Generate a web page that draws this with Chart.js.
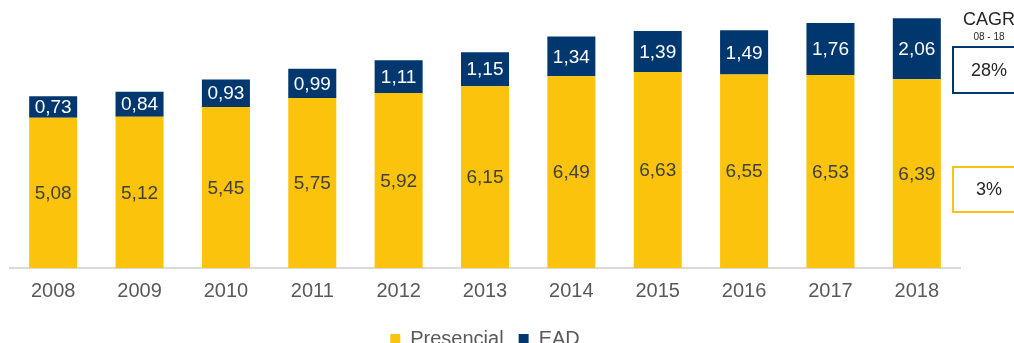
<!DOCTYPE html>
<html>
<head>
<meta charset="utf-8">
<script src="https://cdn.jsdelivr.net/npm/chart.js@4/dist/chart.umd.min.js"></script>
<style>
  html, body { margin: 0; padding: 0; background: #ffffff; overflow: hidden; }
  #wrap { position: relative; width: 1014px; height: 359px; }
</style>
</head>
<body>
<div id="wrap"><canvas id="c"></canvas></div>
<script>
// Enrolment by modality, millions
const years = ['2008', '2009', '2010', '2011', '2012', '2013', '2014', '2015', '2016', '2017', '2018'];
const presencial = [5.08, 5.12, 5.45, 5.75, 5.92, 6.15, 6.49, 6.63, 6.55, 6.53, 6.39];
const ead = [0.73, 0.84, 0.93, 0.99, 1.11, 1.15, 1.34, 1.39, 1.49, 1.76, 2.06];
const seriesNames = ['Presencial', 'EAD'];
const cagrTitle = 'CAGR';
const cagrPeriod = '08 - 18';
const cagrValues = ['28%', '3%']; // EAD, Presencial

const YELLOW = '#FBC30B';
const NAVY = '#00376E';
const FONT = "'Liberation Sans', Arial, sans-serif";

const fmt = v => v.toFixed(2).replace('.', ',');

// Value labels centred inside each stacked segment
const segmentLabels = {
  id: 'segmentLabels',
  afterDatasetsDraw(chart) {
    const ctx = chart.ctx;
    ctx.save();
    ctx.font = '19px ' + FONT;
    ctx.textAlign = 'center';
    ctx.textBaseline = 'middle';
    chart.data.datasets.forEach((ds, di) => {
      const meta = chart.getDatasetMeta(di);
      meta.data.forEach((bar, i) => {
        const p = bar.getProps(['x', 'y', 'base'], true);
        ctx.fillStyle = di === 0 ? '#404040' : '#ffffff';
        ctx.fillText(fmt(ds.data[i]), p.x, (p.y + p.base) / 2 + 1);
      });
    });
    ctx.restore();
  }
};

// Growth-rate boxes at the right edge
const cagrPanel = {
  id: 'cagrPanel',
  afterDraw(chart) {
    const ctx = chart.ctx;
    const area = chart.chartArea;
    const left = area.right - 7;
    const cx = left + 36;
    ctx.save();
    ctx.textAlign = 'center';
    ctx.textBaseline = 'middle';
    ctx.fillStyle = '#262626';
    ctx.font = '18px ' + FONT;
    ctx.fillText(cagrTitle, cx, 20);
    ctx.font = '10px ' + FONT;
    ctx.fillText(cagrPeriod, cx, 37);

    ctx.lineWidth = 2;
    // EAD box
    ctx.strokeStyle = NAVY;
    ctx.strokeRect(left, 47, 80, 46);
    ctx.fillStyle = '#262626';
    ctx.font = '18px ' + FONT;
    ctx.fillText(cagrValues[0], cx, 71);
    // Presencial box
    ctx.strokeStyle = YELLOW;
    ctx.strokeRect(left, 167, 80, 45);
    ctx.fillText(cagrValues[1], cx, 190);
    ctx.restore();
  }
};

new Chart(document.getElementById('c'), {
  type: 'bar',
  data: {
    labels: years,
    datasets: [
      { label: seriesNames[0], data: presencial, backgroundColor: YELLOW, borderWidth: 0 },
      { label: seriesNames[1], data: ead, backgroundColor: NAVY, borderWidth: 0 }
    ]
  },
  options: {
    responsive: true,
    maintainAspectRatio: false,
    animation: false,
    layout: { padding: { top: 2, left: 10, right: 54, bottom: 0 } },
    datasets: { bar: { categoryPercentage: 0.8, barPercentage: 0.695 } },
    scales: {
      x: {
        stacked: true,
        grid: { display: false, drawTicks: false },
        border: { color: '#D9D9D9', width: 2 },
        ticks: { color: '#595959', font: { family: FONT, size: 20, lineHeight: 1.0 }, padding: 13 }
      },
      y: {
        stacked: true,
        display: false,
        min: 0,
        max: 9
      }
    },
    plugins: {
      legend: {
        position: 'bottom',
        labels: {
          color: '#595959',
          font: { family: FONT, size: 20 },
          boxWidth: 10,
          boxHeight: 10,
          padding: 15
        }
      },
      tooltip: { enabled: false }
    }
  },
  plugins: [segmentLabels, cagrPanel]
});
</script>
</body>
</html>
